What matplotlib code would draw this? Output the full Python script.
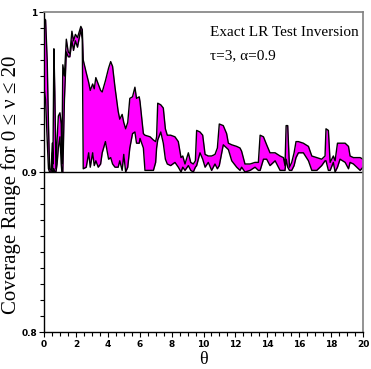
import numpy as np
import matplotlib
matplotlib.use("Agg")
import matplotlib.pyplot as plt
from matplotlib.ticker import MultipleLocator

# Coverage range (min / max over 0 <= nu <= 20) vs theta
theta = [0.00, 0.10, 0.20, 0.28, 0.35, 0.45, 0.52, 0.56, 0.62, 0.68,
         0.75, 0.82, 0.90, 1.00, 1.08, 1.12, 1.18, 1.28, 1.40, 1.52,
         1.62, 1.75, 1.85, 1.97, 2.10, 2.31, 2.40, 2.46, 2.65, 2.80,
         2.90, 3.05, 3.15, 3.25, 3.40, 3.55, 3.65, 3.85, 4.05, 4.18,
         4.30, 4.45, 4.65, 4.75, 4.90, 5.00, 5.12, 5.25, 5.38, 5.55,
         5.70, 5.80, 5.97, 6.02, 6.23, 6.33, 6.65, 6.86, 7.00, 7.06,
         7.13, 7.32, 7.48, 7.61, 7.73, 7.94, 8.21, 8.42, 8.59, 8.70,
         8.84, 9.05, 9.20, 9.36, 9.49, 9.57, 9.78, 9.95, 10.10, 10.30,
         10.51, 10.72, 10.87, 10.99, 11.24, 11.45, 11.56, 11.77, 12.08, 12.29,
         12.39, 12.60, 12.92, 13.23, 13.44, 13.55, 13.76, 13.96, 14.17, 14.49,
         14.80, 15.01, 15.11, 15.18, 15.28, 15.39, 15.53, 15.68, 15.80, 15.95,
         16.26, 16.58, 16.79, 17.10, 17.41, 17.62, 17.68, 17.83, 17.94, 18.14,
         18.25, 18.40, 18.56, 18.88, 19.09, 19.19, 19.40, 19.61, 19.82, 20.00]

cov_max = [0.996, 0.995, 0.970, 0.930, 0.902, 0.901, 0.918, 0.905, 0.977, 0.950,
           0.902, 0.920, 0.935, 0.937, 0.930, 0.905, 0.967, 0.960, 0.983, 0.975,
           0.974, 0.988, 0.982, 0.986, 0.984, 0.991, 0.989, 0.970, 0.962, 0.956,
           0.951, 0.955, 0.952, 0.959, 0.955, 0.951, 0.950, 0.957, 0.965, 0.969,
           0.966, 0.953, 0.938, 0.933, 0.936, 0.931, 0.927, 0.931, 0.946, 0.947,
           0.953, 0.946, 0.947, 0.944, 0.924, 0.923, 0.922, 0.920, 0.919, 0.922,
           0.943, 0.942, 0.940, 0.927, 0.923, 0.923, 0.922, 0.919, 0.909, 0.910,
           0.905, 0.912, 0.906, 0.905, 0.907, 0.926, 0.925, 0.923, 0.911, 0.910,
           0.910, 0.911, 0.915, 0.930, 0.929, 0.924, 0.918, 0.917, 0.916, 0.915,
           0.913, 0.905, 0.905, 0.906, 0.906, 0.923, 0.922, 0.917, 0.912, 0.912,
           0.910, 0.909, 0.904, 0.929, 0.929, 0.903, 0.906, 0.912, 0.919, 0.919,
           0.918, 0.916, 0.910, 0.909, 0.908, 0.910, 0.927, 0.926, 0.906, 0.910,
           0.907, 0.918, 0.918, 0.918, 0.916, 0.910, 0.909, 0.909, 0.909, 0.908]

cov_min = [0.953, 0.945, 0.920, 0.902, 0.900, 0.900, 0.912, 0.900, 0.902, 0.900,
           0.900, 0.905, 0.915, 0.922, 0.905, 0.900, 0.900, 0.945, 0.975, 0.972,
           0.972, 0.982, 0.976, 0.982, 0.978, 0.989, 0.983, 0.902, 0.903, 0.912,
           0.903, 0.912, 0.904, 0.907, 0.903, 0.905, 0.912, 0.919, 0.908, 0.909,
           0.905, 0.903, 0.903, 0.907, 0.901, 0.911, 0.900, 0.903, 0.915, 0.924,
           0.925, 0.918, 0.918, 0.921, 0.915, 0.901, 0.901, 0.901, 0.906, 0.915,
           0.920, 0.925, 0.918, 0.908, 0.905, 0.904, 0.906, 0.903, 0.900, 0.903,
           0.901, 0.904, 0.901, 0.900, 0.903, 0.904, 0.912, 0.908, 0.903, 0.906,
           0.901, 0.905, 0.902, 0.904, 0.917, 0.915, 0.914, 0.907, 0.903, 0.901,
           0.903, 0.900, 0.901, 0.903, 0.901, 0.901, 0.908, 0.908, 0.904, 0.907,
           0.901, 0.901, 0.901, 0.908, 0.903, 0.901, 0.901, 0.904, 0.909, 0.912,
           0.912, 0.907, 0.901, 0.901, 0.904, 0.907, 0.907, 0.901, 0.901, 0.906,
           0.900, 0.903, 0.908, 0.906, 0.902, 0.906, 0.905, 0.903, 0.901, 0.903]

x_ticks = [0, 2, 4, 6, 8, 10, 12, 14, 16, 18, 20]
y_ticks = [0.8, 0.9, 1.0]
y_tick_labels = ["0.8", "0.9", "1"]

serif = ["Liberation Serif", "DejaVu Serif"]
tick_font = {"family": "DejaVu Sans", "weight": "bold", "size": 6.5}

fig = plt.figure(figsize=(3.71, 3.69), dpi=100)
ax = fig.add_axes([44 / 371, 1 - 332 / 369, 319 / 371, 320 / 369])

ax.fill_between(theta, cov_min, cov_max, color="#ff00ff", linewidth=0)
ax.plot(theta, cov_max, color="black", lw=1.0)
ax.plot(theta, cov_min, color="black", lw=1.0)
ax.axhline(0.9, color="black", lw=1.0)

ax.set_xlim(0, 20)
ax.set_ylim(0.8, 1.0)

ax.set_xticks(x_ticks)
ax.set_xticklabels([str(v) for v in x_ticks], fontdict=tick_font)
ax.xaxis.set_minor_locator(MultipleLocator(0.5))
ax.set_yticks(y_ticks)
ax.set_yticklabels(y_tick_labels, fontdict=tick_font)
ax.yaxis.set_minor_locator(MultipleLocator(0.01))
ax.tick_params(which="both", direction="out", length=3, width=0.8, pad=2)
ax.tick_params(axis="y", which="major", length=3.5, pad=1.2)
ax.tick_params(axis="x", which="major", length=3.5)
ax.tick_params(top=False, right=False)

for side in ["top", "right"]:
    ax.spines[side].set_color("#808080")
    ax.spines[side].set_linewidth(1.2)
for side in ["left", "bottom"]:
    ax.spines[side].set_linewidth(1.0)

ax.set_xlabel("θ", family=serif, fontsize=13, labelpad=2)
ax.set_ylabel("Coverage Range for 0 ≤ ν ≤ 20", family=serif, fontsize=15)
ax.yaxis.set_label_coords(-0.072, 0.46)

ax.text(0.52, 0.935, "Exact LR Test Inversion", transform=ax.transAxes,
        family=serif, fontsize=11, va="center", ha="left")
ax.text(0.52, 0.862, "τ=3, α=0.9", transform=ax.transAxes,
        family=serif, fontsize=11, va="center", ha="left")

fig.savefig("out.png", dpi=100)
